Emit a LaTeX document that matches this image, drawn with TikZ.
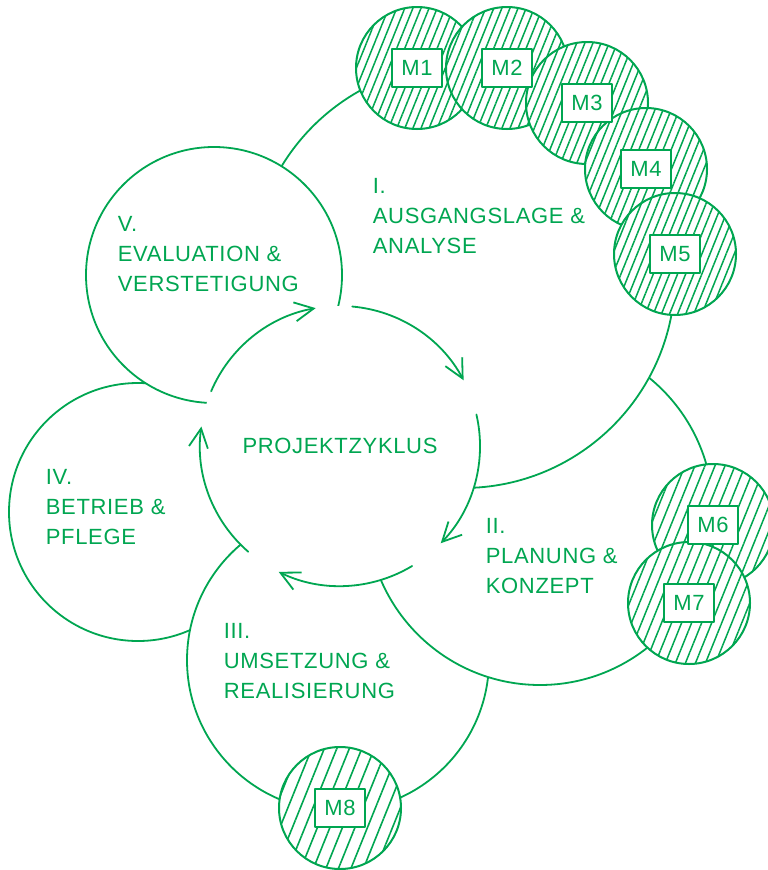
\documentclass[tikz,border=0pt]{standalone}
\usepackage{fontspec}
\setmainfont{Liberation Sans}[LetterSpace=3]
\usetikzlibrary{arrows.meta,patterns.meta}
\definecolor{projgreen}{RGB}{0,166,81}

\begin{document}
\begin{tikzpicture}[
		x=1pt,y=-1pt,
		>={Straight Barb[length=19pt,width=19pt]},
		color=projgreen,
		line width=1.8pt,
		line cap=round,
		line join=round,
		phase/.style={circle,draw,fill=white,inner sep=0pt},
		hub/.style={circle,fill=white,inner sep=0pt,minimum size=280pt,font=\fontsize{22pt}{30pt}\selectfont},
		measure/.style={circle,draw,line width=2pt,preaction={fill=white},pattern color=projgreen,inner sep=0pt,minimum size=122pt},
		mbox/.style={draw,fill=white,line width=2pt,minimum width=50pt,minimum height=38pt,inner sep=0pt,font=\fontsize{22pt}{30pt}\selectfont},
		phasetext/.style={anchor=north west,align=left,inner sep=0pt,font=\fontsize{22pt}{30pt}\selectfont}
		]
		\useasboundingbox (0,0) rectangle (768,870);
		\node[phase,minimum size=258pt] (ph4) at (138,512) {};
		\node[phase,minimum size=302pt] (ph3) at (338,660) {};
		\node[phase,minimum size=346pt] (ph2) at (540,512) {};
		\node[phase,minimum size=424pt] (ph1) at (463,276) {};
		\node[phase,minimum size=256pt] (ph5) at (214,275) {};
		\node[hub] (hub) at (340,446) {PROJEKTZYKLUS};
		\begin{scope}[->]
		\draw (hub.center) ++(-85:140) arc[start angle=-85,delta angle=57,radius=140];
		\draw (hub.center) ++(-13:140) arc[start angle=-13,delta angle=57,radius=140];
		\draw (hub.center) ++(59:140) arc[start angle=59,delta angle=57,radius=140];
		\draw (hub.center) ++(131:140) arc[start angle=131,delta angle=57,radius=140];
		\draw (hub.center) ++(203:140) arc[start angle=203,delta angle=57,radius=140];
		\end{scope}
		\node[measure,pattern={Lines[angle=68,distance=7.5pt,line width=1.5pt]}] (m1) at (417,68) {};
		\node[measure,pattern={Lines[angle=68,distance=7.5pt,line width=1.5pt]}] (m2) at (507,68) {};
		\node[measure,pattern={Lines[angle=68,distance=7.5pt,line width=1.5pt]}] (m3) at (587,103) {};
		\node[measure,pattern={Lines[angle=68,distance=7.5pt,line width=1.5pt]}] (m4) at (646,169) {};
		\node[measure,pattern={Lines[angle=68,distance=7.5pt,line width=1.5pt]}] (m5) at (675,254) {};
		\node[measure,pattern={Lines[angle=68,distance=9.3pt,line width=1.5pt]}] (m6) at (713,525) {};
		\node[measure,pattern={Lines[angle=68,distance=9.3pt,line width=1.5pt]}] (m7) at (689,603) {};
		\node[measure,pattern={Lines[angle=68,distance=11.6pt,line width=1.6pt]}] (m8) at (340,808) {};
		\node[mbox] (b1) at (m1) {M1};
		\node[mbox] (b2) at (m2) {M2};
		\node[mbox] (b3) at (m3) {M3};
		\node[mbox] (b4) at (m4) {M4};
		\node[mbox] (b5) at (m5) {M5};
		\node[mbox] (b6) at (m6) {M6};
		\node[mbox] (b7) at (m7) {M7};
		\node[mbox] (b8) at (m8) {M8};
		\node[phasetext] (t1) at (372,177) {I.\\AUSGANGSLAGE \&\\ANALYSE};
		\node[phasetext] (t2) at (485,517) {II.\\PLANUNG \&\\KONZEPT};
		\node[phasetext] (t3) at (223,622) {III.\\UMSETZUNG \&\\REALISIERUNG};
		\node[phasetext] (t4) at (45,468) {IV.\\BETRIEB \&\\PFLEGE};
		\node[phasetext] (t5) at (117,215) {V.\\EVALUATION \&\\VERSTETIGUNG};
		\end{tikzpicture}
\end{document}
